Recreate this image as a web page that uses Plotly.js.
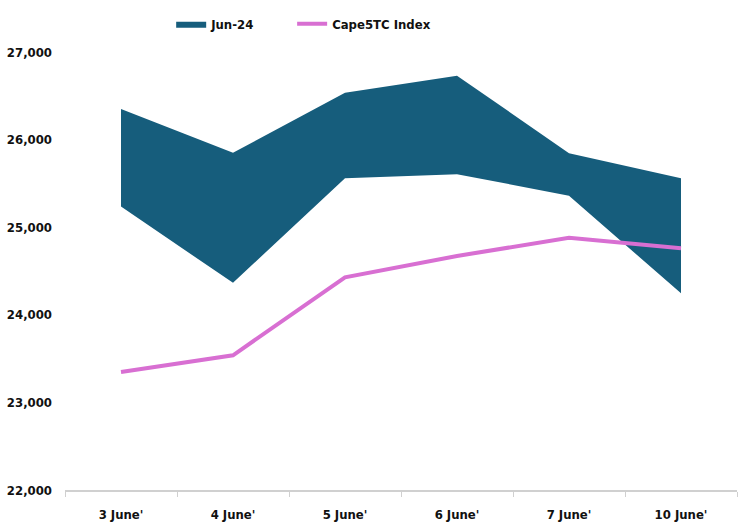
<!DOCTYPE html>
<html>
<head>
<meta charset="utf-8">
<script src="https://cdn.plot.ly/plotly-3.0.1.min.js"></script>
<style>html,body{margin:0;padding:0;background:#fff;}#chart{width:743px;height:527px;}</style>
</head>
<body>
<div id="chart"></div>
<script>
const categories = ["3 June'", "4 June'", "5 June'", "6 June'", "7 June'", "10 June'"];
const jun24High = [26350, 25850, 26535, 26730, 25845, 25560];
const jun24Low = [25235, 24365, 25560, 25605, 25360, 24245];
const cape5tc = [23347, 23538, 24428, 24671, 24880, 24760];
const yTicks = [22000, 23000, 24000, 25000, 26000, 27000];

const font = "'DejaVu Sans Condensed', 'Liberation Sans Narrow', 'Arial Narrow', sans-serif";
const tf = {family: font, size: 13, color: '#111111', weight: 'bold'};

const traces = [
  {x: categories, y: jun24Low, type: 'scatter', mode: 'lines', line: {width: 0, color: '#165d7c'},
   showlegend: false, hoverinfo: 'skip'},
  {x: categories, y: jun24High, type: 'scatter', mode: 'lines', fill: 'tonexty',
   line: {width: 0, color: '#165d7c'}, fillcolor: '#165d7c', name: 'Jun-24', legend: 'legend'},
  {x: categories, y: cape5tc, type: 'scatter', mode: 'lines', name: 'Cape5TC Index',
   line: {color: '#d86fd2', width: 4}, legend: 'legend2'}
];

const layout = {
  width: 743, height: 527,
  margin: {l: 65, r: 6, t: 52, b: 37},
  paper_bgcolor: '#ffffff', plot_bgcolor: '#ffffff',
  font: tf,
  showlegend: true,
  legend: {orientation: 'h', x: 0.158, xanchor: 'left', y: 1.03, yanchor: 'bottom',
    font: tf, itemwidth: 30},
  legend2: {orientation: 'h', x: 0.338, xanchor: 'left', y: 1.03, yanchor: 'bottom',
    font: tf, itemwidth: 30},
  xaxis: {type: 'category', showgrid: false, zeroline: false, showline: true,
    linecolor: '#d0d0d0', linewidth: 1.5, ticks: 'outside', ticklen: 5, tickcolor: '#d0d0d0',
    tickson: 'boundaries', tickfont: tf, ticklabelstandoff: 12, range: [-0.5, 5.5], fixedrange: true},
  yaxis: {range: [22000, 27000], tickvals: yTicks, tickformat: ',d', showgrid: false,
    zeroline: false, showline: false, ticks: '', tickfont: tf,
    ticklabelstandoff: 12, fixedrange: true}
};

Plotly.newPlot('chart', traces, layout, {displayModeBar: false, staticPlot: true});
</script>
</body>
</html>
